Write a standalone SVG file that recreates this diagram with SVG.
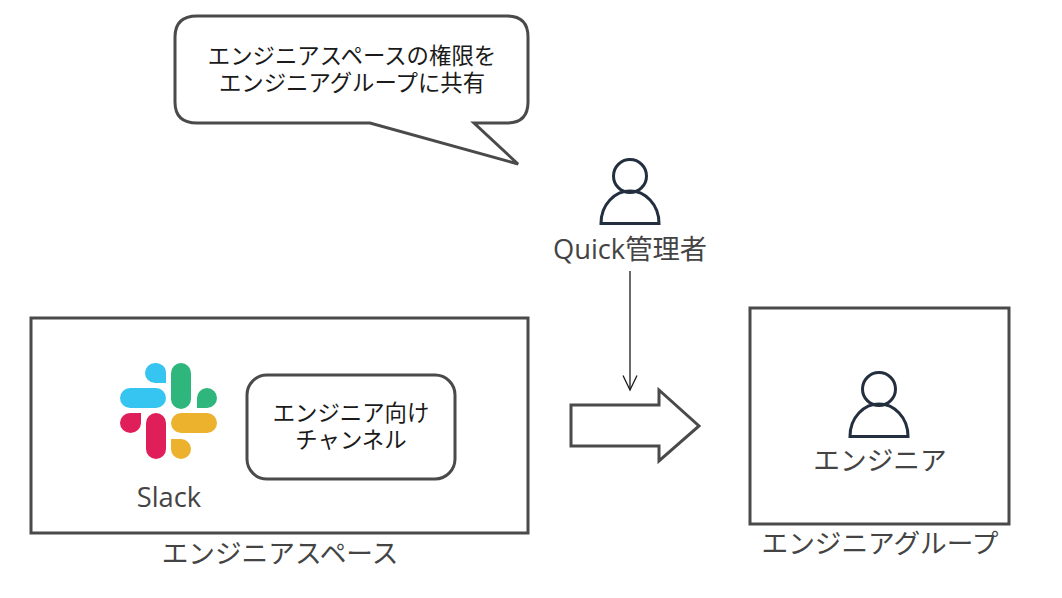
<svg xmlns="http://www.w3.org/2000/svg" width="1062" height="598" viewBox="0 0 1062 598">
<style>
text{font-family:"Open Sans","Noto Sans CJK JP",sans-serif;text-anchor:middle;fill:#444}
.d{fill:#1a1a1a;font-size:22.400px}
.l{font-size:26.670px}
.q{font-size:27.300px}
.b{fill:#fff;stroke:#4a4a4a;stroke-width:3}
.p{fill:none;stroke:#232f3e;stroke-width:3}
</style>
<defs>
<marker id="a" markerWidth="18" markerHeight="18" refX="15.500" refY="9" orient="auto" markerUnits="userSpaceOnUse"><path d="M1 2L15.500 9L1 16" fill="none" stroke="#1a1a1a" stroke-width="1.300"/></marker>
<g id="person"><circle cx="0" cy="-23" r="16.500" class="p"/><path d="M-29 24.500H29C29 5 15 -8 0 -8C-15 -8 -29 5 -29 24.500Z" class="p"/></g>
</defs>
<g id="space"><rect x="31" y="318" width="497" height="215" class="b"/><text x="280" y="563" class="l">エンジニアスペース</text></g>
<g id="group"><rect x="750" y="308" width="259" height="216" class="b"/><text x="880" y="553" class="l">エンジニアグループ</text></g>
<g id="callout"><path d="M197 16H507Q528 16 528 37V102Q528 123 507 123H474L518 164L370 123H197Q175 123 175 102V37Q175 16 197 16Z" class="b"/><text x="352" y="64" class="d">エンジニアスペースの権限を</text><text x="352" y="91" class="d">エンジニアグループに共有</text></g>
<g id="admin"><use href="#person" x="630" y="199"/><text x="630" y="259" class="q">Quick管理者</text></g>
<g id="engineer"><use href="#person" x="879" y="412"/><text x="880" y="470" class="l">エンジニア</text></g>
<g id="channel"><rect x="247" y="375" width="208" height="104" rx="20" class="b"/><text x="351" y="421" class="d">エンジニア向け</text><text x="351" y="448" class="d">チャンネル</text></g>
<g id="slack">
<path d="M155 363a10 10 0 0 0 0 20h11v-10a10 10 0 0 0-11-10Z" fill="#36c5f0"/>
<rect x="120" y="388" width="46" height="20" rx="10" fill="#36c5f0"/>
<rect x="171" y="363" width="20" height="46" rx="10" fill="#2eb67d"/>
<path d="M217 398a10 10 0 0 0-20 0v10h10a10 10 0 0 0 10-10Z" fill="#2eb67d"/>
<path d="M141 413v10a10.500 10 0 0 1-21 0a10 10 0 0 1 10-10Z" fill="#e01e5a"/>
<rect x="146" y="413" width="20" height="46" rx="10" fill="#e01e5a"/>
<rect x="171" y="413" width="46" height="20" rx="10" fill="#ecb22e"/>
<path d="M171 439h10a10 10 0 0 1 10 10a10 10 0 0 1-20 0Z" fill="#ecb22e"/>
<text x="169" y="507" class="q">Slack</text>
</g>
<g id="connectors">
<path d="M571 405H659V390L699 426L659 461V446H571Z" class="b"/>
<path d="M630 271V390" fill="none" stroke="#1a1a1a" stroke-width="1.300" marker-end="url(#a)"/>
</g>
</svg>
